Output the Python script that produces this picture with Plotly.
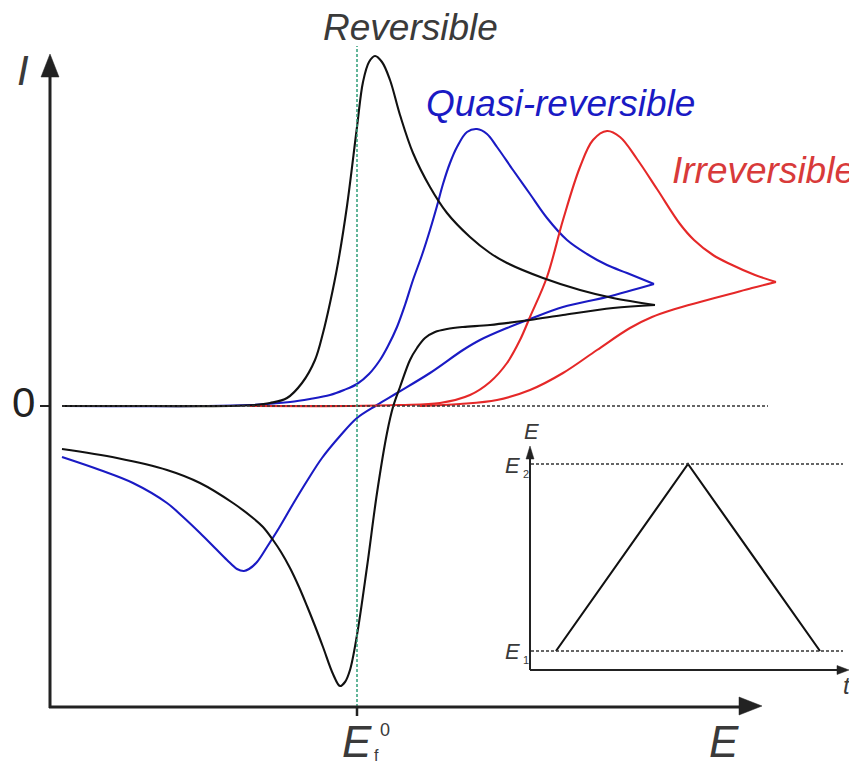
import plotly.graph_objects as go

# ---------------- data (E in mV vs E_f^0, I in arbitrary units) ----------------
rev_fwd_E = [-295, -207, -127, -102, -87, -70, -55, -42, -34, -27, -19, -10, 0, 6, 12, 18,
             25, 33, 43, 56, 73, 90, 113, 133, 150, 186, 223, 256, 298]
rev_fwd_I = [0, 0, 0, 1, 3, 8, 23, 46, 73, 103, 143, 200, 279, 324, 344, 350,
             344, 326, 291, 253, 219, 193, 169, 153, 143, 128, 116, 108, 101]
rev_rev_E = [298, 256, 206, 173, 133, 106, 90, 78, 68, 60, 53, 43, 36, 30, 20, 10, 0, -7,
             -12, -17, -24, -34, -42, -50, -58, -67, -76, -84, -94, -104, -124, -157, -190,
             -240, -295]
rev_rev_I = [101, 98, 91, 86, 81, 79, 77, 74, 68, 58, 46, 19, -1, -27, -87, -161, -229, -264,
             -276, -280, -268, -241, -220, -200, -181, -162, -146, -134, -121, -112, -97, -77,
             -64, -52, -43]

quasi_fwd_E = [-295, -157, -107, -67, -47, -27, -13, 0, 12, 23, 31, 40, 48, 56, 65, 73, 80,
               86, 93, 100, 110, 120, 130, 140, 156, 173, 190, 210, 230, 250, 270, 297]
quasi_fwd_I = [0, 0, 1, 4, 7, 11, 16, 22, 32, 46, 60, 79, 101, 126, 151, 176, 200,
               222, 243, 259, 274, 277, 272, 259, 236, 212, 188, 166, 152, 141, 133, 122]
quasi_rev_E = [297, 250, 206, 173, 150, 123, 106, 73, 40, 20, 0, -17, -35, -50, -64, -78,
               -90, -100, -108, -113, -120, -130, -142, -157, -175, -190, -224, -257, -295]
quasi_rev_I = [122, 109, 99, 87, 78, 66, 56, 33, 13, 1, -12, -30, -52, -75, -98, -122,
               -141, -156, -163, -165, -163, -154, -142, -127, -110, -97, -77, -64, -51]

irr_fwd_E = [-107, -7, 43, 83, 113, 133, 150, 163, 173, 190, 206, 223, 236, 250, 263, 280,
             300, 323, 337, 356, 373, 398, 419]
irr_fwd_I = [0, 0, 1, 3, 11, 24, 43, 66, 89, 129, 186, 239, 266, 275, 269, 247,
             217, 182, 166, 151, 142, 131, 124]
irr_rev_E = [419, 395, 373, 343, 318, 295, 273, 240, 206, 173, 140, 103, 63]
irr_rev_I = [124, 118, 112, 104, 97, 89, 78, 56, 33, 16, 6, 2, 0]

# potential waveform (inset)
wave_t = [0, 1, 2]
E1_val, E2_val = 0.0, 1.0
wave_E = [E1_val, E2_val, E1_val]

E_f0 = 0
labels = {"rev": "Reversible", "quasi": "Quasi-reversible", "irr": "Irreversible"}

# ---------------- colours ----------------
C_BLACK = "#111111"
C_BLUE = "#1a1ac4"
C_RED = "#e52828"
C_AX = "#222222"
C_TXT = "#3a3a3a"
C_GREEN = "#2f9e7a"

# the page body adds an 8px margin; the figure fills the rest of the window
OFF = 8
W, H = 857 - OFF, 767 - OFF

# page-pixel -> paper helpers (layout decorations only)
def px(x):
    return (x - OFF) / W

def py(y):
    return 1 - (y - OFF) / H

fig = go.Figure()

def curve(xs, ys, color, xa="x", ya="y", shape="spline"):
    fig.add_trace(go.Scatter(x=xs, y=ys, mode="lines", xaxis=xa, yaxis=ya,
                             line=dict(color=color, width=2.1, shape=shape, smoothing=1.0),
                             hoverinfo="skip", showlegend=False))

curve(quasi_fwd_E, quasi_fwd_I, C_BLUE)
curve(quasi_rev_E, quasi_rev_I, C_BLUE)
curve(irr_fwd_E, irr_fwd_I, C_RED)
curve(irr_rev_E, irr_rev_I, C_RED)
curve(rev_fwd_E, rev_fwd_I, C_BLACK)
curve(rev_rev_E, rev_rev_I, C_BLACK)
curve(wave_t, wave_E, C_BLACK, "x2", "y2", "linear")

shapes = []
DASH = "3px,2px"
# zero current line
shapes.append(dict(type="line", xref="paper", yref="y", x0=px(62), x1=px(768), y0=0, y1=0,
                   line=dict(color="#333333", width=1.5, dash=DASH)))
# formal potential line
shapes.append(dict(type="line", xref="x", yref="paper", x0=E_f0, x1=E_f0, y0=py(707), y1=py(46),
                   line=dict(color=C_GREEN, width=1.5, dash=DASH)))
# inset E1 / E2 lines
for v in (E1_val, E2_val):
    shapes.append(dict(type="line", xref="paper", yref="y2", x0=px(531), x1=px(843), y0=v, y1=v,
                       line=dict(color="#333333", width=1.5, dash=DASH)))

def seg(x0, y0, x1, y1, w, color=C_AX):
    shapes.append(dict(type="line", xref="paper", yref="paper", x0=px(x0), y0=py(y0),
                       x1=px(x1), y1=py(y1), line=dict(color=color, width=w)))

def tri(p1, p2, p3, color=C_AX):
    path = "M {} {} L {} {} L {} {} Z".format(px(p1[0]), py(p1[1]), px(p2[0]), py(p2[1]),
                                              px(p3[0]), py(p3[1]))
    shapes.append(dict(type="path", xref="paper", yref="paper", path=path,
                       fillcolor=color, line=dict(color=color, width=0.5)))

# main axes
seg(50, 708, 50, 74, 3)
tri((50, 54), (41, 77), (59, 77))
seg(49, 707, 742, 707, 3)
tri((762, 706), (739, 697), (739, 715))
seg(40, 406, 50, 406, 2)      # tick at I = 0
seg(357, 707, 357, 716, 2.5)  # tick at E_f^0

# inset axes
seg(530, 670, 530, 456, 2)
tri((530, 446), (526, 459), (534, 459))
seg(530, 670, 840, 670, 2)
tri((849, 670), (837, 665.5), (837, 674.5))

fig.update_layout(shapes=shapes)

FONT = "Liberation Sans, Arial, sans-serif"

def txt(s, x, y, size, color=C_TXT, xanchor="center"):
    fig.add_annotation(text=s, xref="paper", yref="paper", x=px(x), y=py(y),
                       xanchor=xanchor, yanchor="middle", showarrow=False,
                       font=dict(family=FONT, size=size, color=color))

txt("<i>" + labels["rev"] + "</i>", 321, 27, 37, C_TXT, "left")
txt("<i>" + labels["quasi"] + "</i>", 424, 104, 37, C_BLUE, "left")
txt("<i>" + labels["irr"] + "</i>", 670, 170, 37, "#d83a3a", "left")
txt("<i>I</i>", 23, 70, 42)
txt("0", 23, 402, 42, "#222222")
txt("<i>E</i>", 724, 741, 44)
txt("<i>E</i>", 357, 741, 44)
txt("f", 376, 755, 16)
txt("0", 385, 730, 18)
# inset labels
txt("<i>E</i>", 531, 432, 22)
txt("<i>E</i>", 512, 465, 22)
txt("2", 526, 474, 11)
txt("<i>E</i>", 512, 651, 22)
txt("1", 526, 660, 11)
txt("<i>t</i>", 847, 685, 24)

# axis ranges chosen so the data map onto the page
fig.update_layout(
    width=W, height=H, autosize=False,
    margin=dict(l=0, r=0, t=0, b=0),
    paper_bgcolor="white", plot_bgcolor="white",
    xaxis=dict(range=[OFF - 357, 857 - 357], visible=False, fixedrange=True),
    yaxis=dict(range=[406 - 767, 406 - OFF], visible=False, fixedrange=True),
    xaxis2=dict(range=[(OFF - 556) / 132, (857 - 556) / 132], overlaying="x", anchor="y2",
                visible=False),
    yaxis2=dict(range=[(651 - 767) / 187, (651 - OFF) / 187], overlaying="y", anchor="x2",
                visible=False),
)

fig.write_html("out.html")
